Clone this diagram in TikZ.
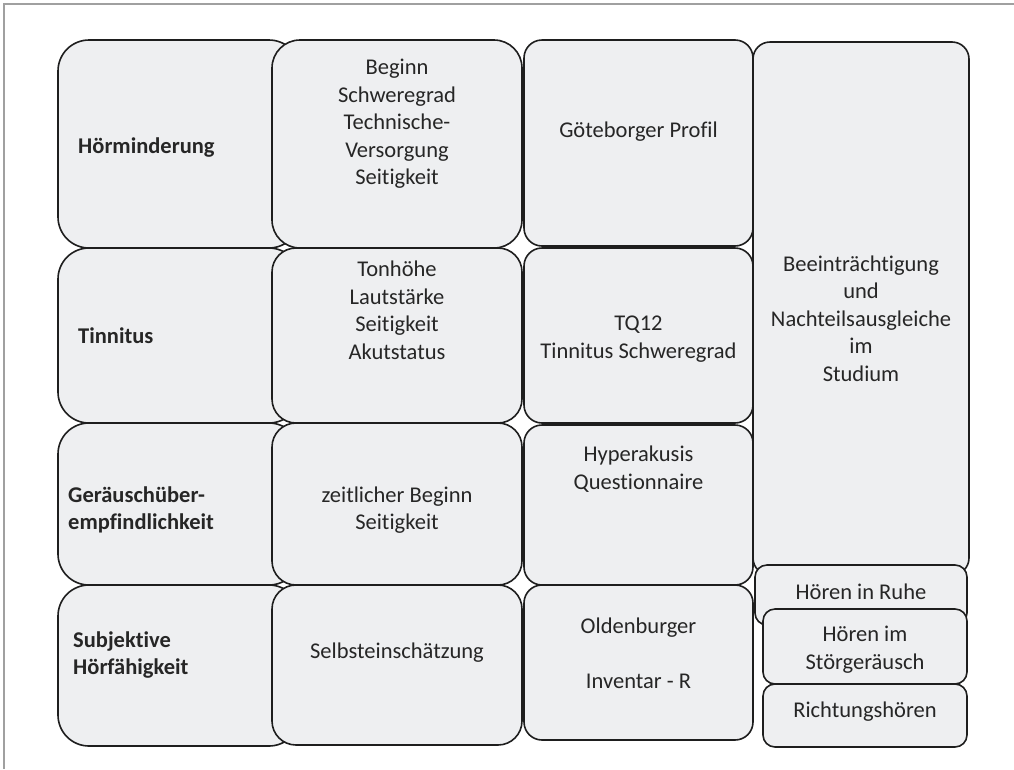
\documentclass[tikz,border=0pt]{standalone}
\usepackage{fontspec}
\setmainfont{Carlito}[Ligatures=NoCommon]
\definecolor{boxfill}{RGB}{238,239,241}
\definecolor{boxline}{RGB}{30,30,30}
\definecolor{txt}{RGB}{38,38,38}
\definecolor{frame}{RGB}{160,160,160}
\tikzset{
  box/.style={rectangle, draw=boxline, fill=boxfill, line width=1.6pt, inner sep=0pt, outer sep=0pt},
  lbl/.style={text=txt, inner sep=0pt, align=center, font=\fontsize{22.5}{27.5}\selectfont},
  blbl/.style={lbl, align=left, font=\fontsize{22.5}{27.5}\selectfont\bfseries},
}
\begin{document}
\begin{tikzpicture}[x=1pt,y=-1pt]
\useasboundingbox (0,0) rectangle (1014,769);
\draw[frame, line width=1.4pt] (4,769) -- (4,4) -- (1014,4);
% left column
\node[box, rounded corners=31pt, minimum width=242pt, minimum height=208pt] (l1) at (179,144) {};
\node[box, rounded corners=31pt, minimum width=242pt, minimum height=175pt] (l2) at (179,335.5) {};
\node[box, rounded corners=31pt, minimum width=242pt, minimum height=162pt] (l3) at (179,504) {};
\node[box, rounded corners=31pt, minimum width=242pt, minimum height=161pt] (l4) at (179,665.5) {};
% middle column
\node[box, rounded corners=28pt, minimum width=250pt, minimum height=208pt] (m1) at (397,144) {};
\node[box, rounded corners=24pt, minimum width=250pt, minimum height=175pt] (m2) at (397,335.5) {};
\node[box, rounded corners=24pt, minimum width=250pt, minimum height=162pt] (m3) at (397,504) {};
\node[box, rounded corners=24pt, minimum width=250pt, minimum height=160pt] (m4) at (397,665) {};
% third column
\node[box, rounded corners=18pt, minimum width=229pt, minimum height=206pt] (t1) at (638.5,143) {};
\node[box, rounded corners=18pt, minimum width=229pt, minimum height=175pt] (t2) at (638.5,335.5) {};
\node[box, rounded corners=18pt, minimum width=229pt, minimum height=160pt] (t3) at (638.5,505) {};
\node[box, rounded corners=18pt, minimum width=229pt, minimum height=155pt] (t4) at (638.5,662.5) {};
% right column
\node[box, rounded corners=17pt, minimum width=216pt, minimum height=533pt] (r) at (861,308.5) {};
\node[box, rounded corners=12pt, minimum width=212pt, minimum height=60pt] (s1) at (861,595) {};
\node[box, rounded corners=12pt, minimum width=204pt, minimum height=75pt] (s2) at (865,646.5) {};
\node[box, rounded corners=12pt, minimum width=204pt, minimum height=63pt] (s3) at (865,715.5) {};
% labels
\node[blbl, anchor=base west] (tl1) at (78,153) {Hörminderung};
\node[blbl, anchor=base west] (tl2) at (78,343) {Tinnitus};
\node[blbl, anchor=west] (tl3) at (68,510) {Geräuschüber-\\empfindlichkeit};
\node[blbl, anchor=west] (tl4) at (73,655) {Subjektive\\Hörfähigkeit};
\node[lbl] (tm1) at (397,124) {Beginn\\Schweregrad\\Technische-\\Versorgung\\Seitigkeit};
\node[lbl] (tm2) at (397,310.5) {Tonhöhe\\Lautstärke\\Seitigkeit\\Akutstatus};
\node[lbl] (tm3) at (397,510) {zeitlicher Beginn\\Seitigkeit};
\node[lbl] (tm4) at (397,653) {Selbsteinschätzung};
\node[lbl] (tt1) at (638.5,132) {Göteborger Profil};
\node[lbl] (tt2) at (638.5,339) {TQ12\\Tinnitus Schweregrad};
\node[lbl] (tt3) at (638.5,469) {Hyperakusis\\Questionnaire};
\node[lbl] (tt4) at (638.5,653.5) {Oldenburger\\[27.5pt]Inventar - R};
\node[lbl] (tr) at (861,318.5) {Beeinträchtigung\\und\\Nachteilsausgleiche\\im\\Studium};
\node[lbl] (ts1) at (861,592) {Hören in Ruhe};
\node[lbl] (ts2) at (865,649.5) {Hören im\\Störgeräusch};
\node[lbl] (ts3) at (865,712) {Richtungshören};
\end{tikzpicture}
\end{document}
